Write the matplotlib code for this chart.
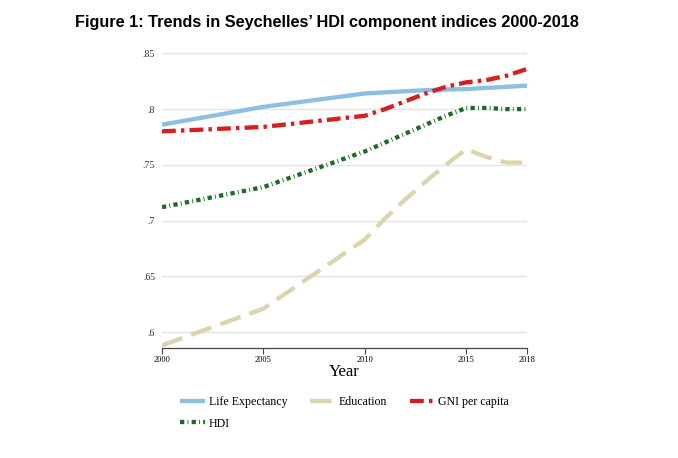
import matplotlib.pyplot as plt
from matplotlib.lines import Line2D

years = [2000, 2005, 2010, 2011, 2012, 2013, 2014, 2015, 2016, 2017, 2018]
life_expectancy = [0.786, 0.802, 0.814, 0.815, 0.816, 0.817, 0.8175, 0.818, 0.819, 0.820, 0.821]
education = [0.588, 0.621, 0.683, 0.702, 0.719, 0.735, 0.750, 0.764, 0.757, 0.752, 0.752]
gni = [0.780, 0.784, 0.794, 0.800, 0.807, 0.814, 0.820, 0.824, 0.826, 0.830, 0.836]
hdi = [0.712, 0.730, 0.762, 0.770, 0.778, 0.786, 0.794, 0.801, 0.801, 0.800, 0.800]

x_ticks = [2000, 2005, 2010, 2015, 2018]
y_ticks = [0.6, 0.65, 0.7, 0.75, 0.8, 0.85]
y_labels = ['.6', '.65', '.7', '.75', '.8', '.85']

SERIF = ['Liberation Serif', 'DejaVu Serif']

LE_STYLE = dict(color='#8cbfe1', lw=3.1, solid_capstyle='butt')
EDU_STYLE = dict(color='#dbd5ad', lw=3.1, dashes=(5, 2.2))
GNI_STYLE = dict(color='#d81e1e', lw=3.1, dashes=(3.2, 1.2, 0.8, 1.2))
HDI_STYLE = dict(color='#1d6b24', lw=3.1, dashes=(1, 0.75, 0.2, 0.75))

fig = plt.figure(figsize=(6.78, 4.58), dpi=100)
ax = fig.add_axes([162 / 678, 1 - 348 / 458, 365 / 678, 298 / 458])

ax.plot(years, life_expectancy, **LE_STYLE)
ax.plot(years, education, **EDU_STYLE)
ax.plot(years, gni, **GNI_STYLE)
ax.plot(years, hdi, **HDI_STYLE)

ax.set_xlim(2000, 2018)
ax.set_ylim(0.5857, 0.853)
ax.set_xticks(x_ticks)
ax.set_xticklabels([str(t) for t in x_ticks], fontsize=6, family=SERIF)
ax.set_yticks(y_ticks)
ax.set_yticklabels(y_labels, fontsize=7, family=SERIF, color='#333333')
ax.tick_params(axis='y', length=0, pad=5)
ax.tick_params(axis='x', length=4, width=0.8, color='#444444', pad=1.5)

ax.yaxis.grid(color='#e3e3e3', lw=1)
ax.set_axisbelow(True)
for side in ['top', 'right', 'left']:
    ax.spines[side].set_visible(False)
ax.spines['bottom'].set_color('#444444')
ax.spines['bottom'].set_linewidth(0.9)

ax.set_xlabel('Year', fontsize=12, family=SERIF, labelpad=0)

fig.text(75 / 678, 1 - 23 / 458, "Figure 1: Trends in Seychelles\u2019 HDI component indices 2000-2018",
         fontsize=11.7, fontweight='bold', family=['Liberation Sans', 'DejaVu Sans'], va='center')

handles = [
    Line2D([], [], **LE_STYLE),
    Line2D([], [], **HDI_STYLE),
    Line2D([], [], **EDU_STYLE),
    Line2D([], [], **GNI_STYLE),
]
labels = ['Life Expectancy', 'HDI', 'Education', 'GNI per capita']
fig.legend(handles, labels, loc='upper left', bbox_to_anchor=(180 / 678, 1 - 396 / 458),
           ncol=3, frameon=False, prop={'family': SERIF, 'size': 8.6},
           handlelength=2.1, handletextpad=0.3, columnspacing=1.9, labelspacing=0.8,
           borderaxespad=0, borderpad=0)

fig.savefig('out.png', dpi=100, facecolor='white')
